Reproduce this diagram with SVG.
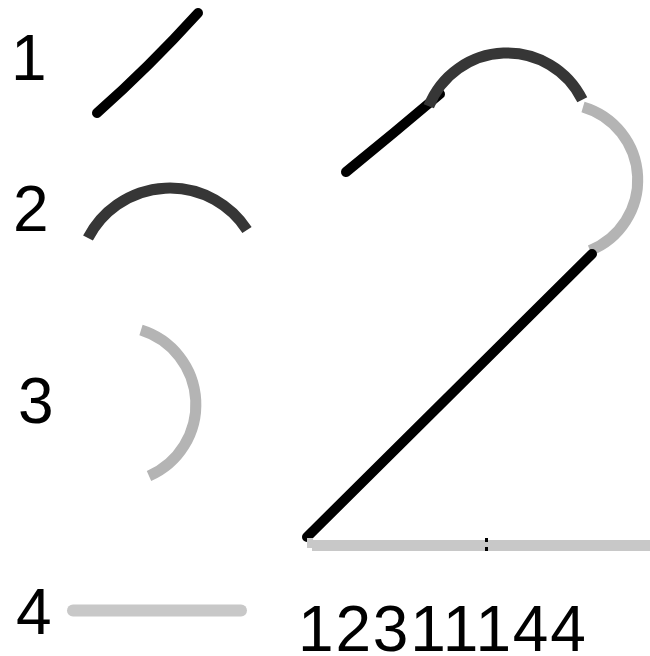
<svg xmlns="http://www.w3.org/2000/svg" width="650" height="656" viewBox="0 0 650 656">
<style>
text{font-family:"Liberation Sans",Arial,sans-serif;font-size:64px;fill:#000}
.s1{fill:none;stroke:#000;stroke-width:10;stroke-linecap:round;stroke-linejoin:round}
.s2{fill:none;stroke:#363636;stroke-width:11;stroke-linecap:butt}
.s3{fill:none;stroke:#b4b4b4;stroke-width:11;stroke-linecap:butt}
.s4{fill:none;stroke:#c8c8c8;stroke-width:12;stroke-linecap:round}
</style>
<rect width="650" height="656" fill="#fff"/>
<g id="legend1">
<text x="11" y="80">1</text>
<path class="s1" d="M97,113 Q149,67 198,13"/>
</g>
<g id="legend2">
<text x="13" y="231">2</text>
<path class="s2" d="M88,238 A92,92 0 0 1 247,230"/>
</g>
<g id="legend3">
<text x="18" y="423">3</text>
<path class="s3" d="M141,330 A78,78 0 0 1 149,476"/>
</g>
<g id="legend4">
<text x="16" y="634">4</text>
<line class="s4" x1="73" y1="610.5" x2="241" y2="610.5"/>
</g>
<g id="big2">
<path class="s1" d="M346,172 Q394,133 440,94"/>
<path class="s2" d="M428.8,106.3 A84,84 0 0 1 582.3,99.8"/>
<path class="s3" d="M583,107 A76,76 0 0 1 590,250.5"/>
<path class="s1" d="M592,254 L307,537"/>
<rect x="307" y="538" width="6" height="10" fill="#c8c8c8"/>
<rect x="312" y="540" width="338" height="11" fill="#c8c8c8"/>
<rect x="485" y="538" width="3" height="13" fill="#000"/>
<rect x="485" y="542" width="3" height="5" fill="#c8c8c8"/>
</g>
<g id="label">
<text x="298" y="651" letter-spacing="1.8">12311144</text>
</g>
</svg>
